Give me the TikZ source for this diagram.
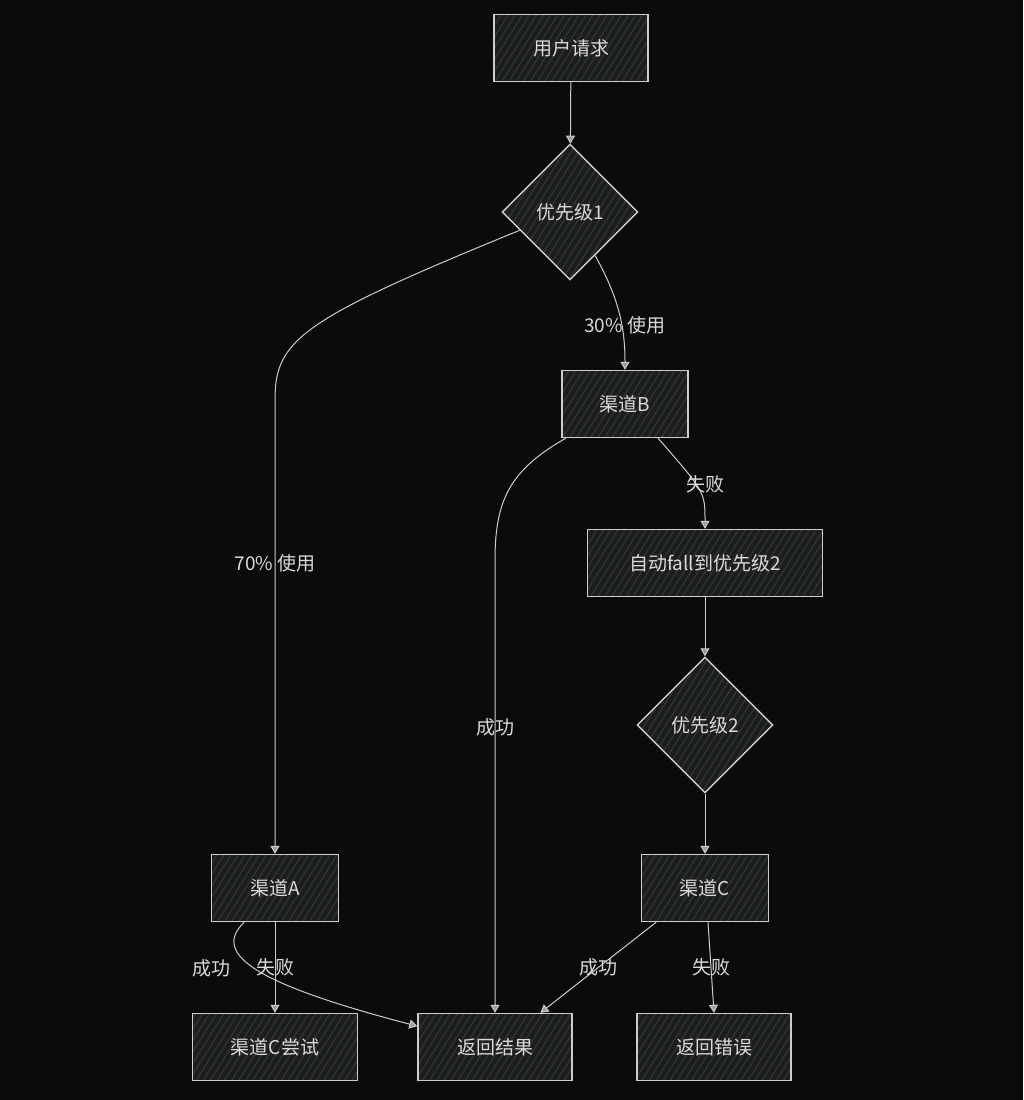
\documentclass[tikz,border=0pt]{standalone}
\usepackage{fontspec}
\newfontfamily\cjkfont{Noto Sans CJK SC}
\usepackage{tikz}
\usetikzlibrary{arrows.meta,shapes.geometric,patterns.meta}
\definecolor{FlowBg}{HTML}{0B0B0D}
\definecolor{FlowFill}{HTML}{1C1D1E}
\definecolor{FlowHatch}{HTML}{333636}
\definecolor{FlowLine}{HTML}{CDCDCD}
\definecolor{FlowText}{HTML}{DADADA}
\definecolor{FlowTip}{HTML}{9C9C9C}

\begin{document}
\begin{tikzpicture}[x=1pt, y=-1pt, font=\cjkfont\fontsize{19}{22}\selectfont,
  >={Triangle[width=9pt,length=8pt,fill=FlowTip]},
  box/.style={draw=FlowLine, line width=1.4pt, preaction={fill=FlowFill}, pattern={Lines[angle=58,distance=6pt,line width=1.2pt]}, pattern color=FlowHatch, minimum height=67pt, inner sep=0pt, text=FlowText},
  decision/.style={diamond, draw=FlowLine, line width=1.4pt, preaction={fill=FlowFill}, pattern={Lines[angle=58,distance=6pt,line width=1.2pt]}, pattern color=FlowHatch, minimum width=136pt, minimum height=136pt, inner sep=0pt, text=FlowText},
  arr/.style={->, draw=FlowLine, line width=1pt},
  lbl/.style={text=FlowText, inner sep=1pt}]
\fill[FlowBg] (0,0) rectangle (1023,1100);
% nodes
\node[box, minimum width=154pt] (req) at (571,48) {用户请求};
\node[decision] (p1) at (570,212) {优先级1};
\node[box, minimum width=126pt] (chb) at (625,404) {渠道B};
\node[box, minimum width=235pt] (fall) at (705,563) {自动fall到优先级2};
\node[decision] (p2) at (705,725) {优先级2};
\node[box, minimum width=127pt] (chc) at (705,888) {渠道C};
\node[box, minimum width=127pt] (cha) at (275,888) {渠道A};
\node[box, minimum width=165pt] (chctry) at (275,1047) {渠道C尝试};
\node[box, minimum width=154pt] (result) at (495,1047) {返回结果};
\node[box, minimum width=154pt] (err) at (714,1047) {返回错误};
\coordinate (aturn) at (275,400);
\coordinate (bturn) at (495,560);
% connectors
\draw[arr] (req) -- (p1);
\draw[arr] (p1.200) .. controls (300,320) and (275,340) .. (aturn) -- node[lbl, pos=0.36]{70\% 使用} (cha);
\draw[arr] (p1.-60) .. controls (620,300) and (625,330) .. node[lbl, pos=0.6, xshift=3pt]{30\% 使用} (chb.north);
\draw[arr] (chb.-150) .. controls (510,470) and (495,500) .. (bturn) -- node[lbl, pos=0.37]{成功} (result);
\draw[arr] (chb.-46) .. controls (705,492) .. node[lbl, pos=0.5, xshift=6pt, yshift=6pt]{失败} (fall.north);
\draw[arr] (fall) -- (p2);
\draw[arr] (p2) -- (chc);
\draw[arr] (cha) -- node[lbl]{失败} (chctry);
\draw[arr] (cha.-132) .. controls (210,955) and (260,985) .. node[lbl, pos=0.4, xshift=-34pt, yshift=-7pt]{成功} (result.165);
\draw[arr] (chc.-145) -- node[lbl]{成功} (result.37);
\draw[arr] (chc.-85) -- node[lbl]{失败} (err.north);
\end{tikzpicture}
\end{document}
